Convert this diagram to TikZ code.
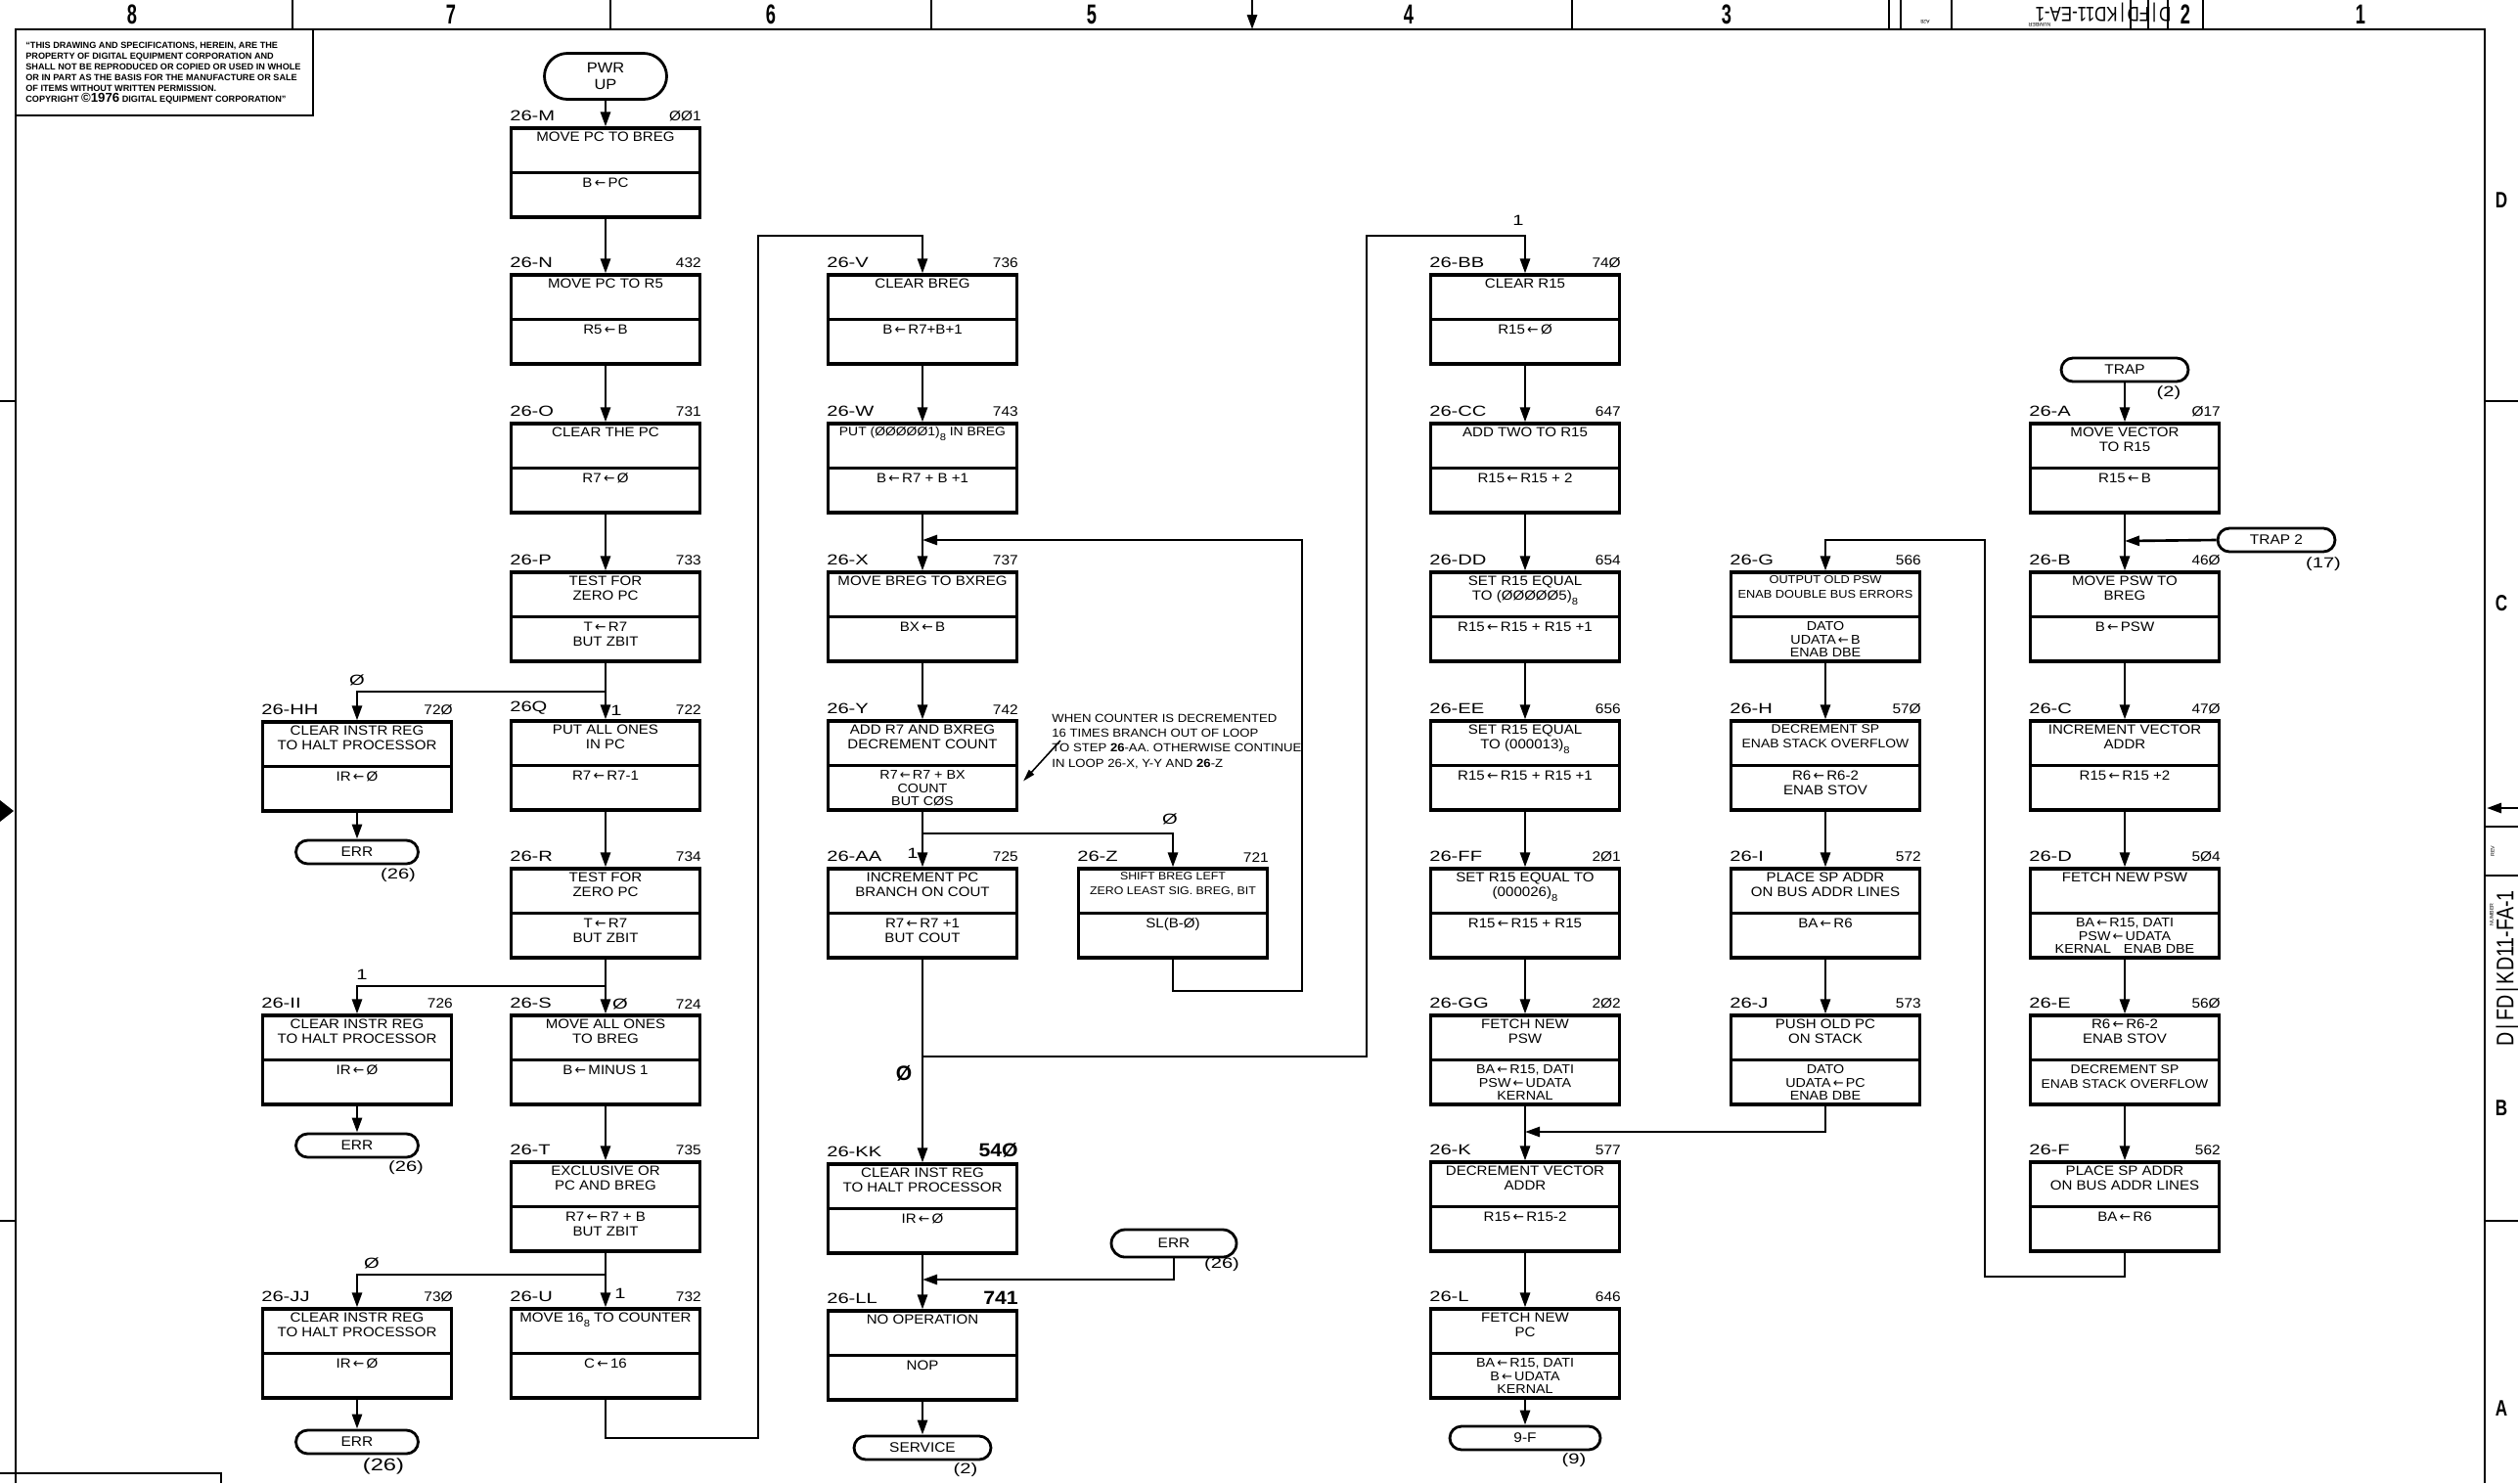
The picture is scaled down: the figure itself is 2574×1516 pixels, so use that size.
\documentclass[tikz,border=0pt]{standalone}
\usepackage{fontspec}
\setmainfont{Liberation Sans}
\newfontfamily\dv{DejaVu Sans}
\newfontfamily\hand[FakeStretch=1.1]{Liberation Sans}
\newfontfamily\lbf[FakeStretch=1.35]{Liberation Sans}
\usetikzlibrary{arrows.meta,calc}
\newcommand\la{\,{\dv ←}\,}
\newcommand\osub[1]{\raisebox{-0.35em}{\fontsize{5.8}{5.8}\selectfont #1}}
\newcommand\tsm{\fontsize{7.2}{8.6}\selectfont}
\tikzset{
  fb/.style={draw, line width=1.8pt, minimum width=3.86cm, minimum height=1.82cm, inner sep=0pt},
  tt/.style={inner sep=0pt, align=center, font=\hand\fontsize{7.8}{8.6}\selectfont},
  tfont/.style={}, afont/.style={},
  a3/.style={afont/.style={font=\hand\fontsize{7.4}{7.6}\selectfont}},
  lb/.style={inner sep=0pt, font=\lbf\fontsize{8.5}{9}\selectfont},
  nb/.style={inner sep=0pt, font=\hand\fontsize{8}{9}\selectfont},
  con/.style={line width=1.5pt},
  arr/.style={con, -{Triangle[length=0.3cm,width=0.2cm]}},
  oval/.style={draw, line width=1.6pt, rounded corners=0.24cm, minimum height=0.48cm, inner sep=0pt, font=\hand\fontsize{8}{8.6}\selectfont},
  bl/.style={inner sep=0pt, font=\lbf\fontsize{8.5}{9}\selectfont},
  frm/.style={line width=1.6pt},
  colnum/.style={inner sep=0pt, font=\fontsize{16}{16}\selectfont\bfseries},
}
\newcommand\FB[8][]{%
  \begin{scope}[#1]
  \node[fb] (#2) at (#3,#4+45.5) {};
  \draw[line width=1.4pt] (#2.west) -- (#2.east);
  \node[tt,tfont,anchor=north] (#2-t) at ($(#2.north)+(0,5)$) {#7};
  \node[tt,afont,anchor=north] (#2-a) at ($(#2.center)+(0,5)$) {#8};
  \node[lb,anchor=south west] (#2-l) at ($(#2.north west)+(0,-5)$) {#5};
  \node[nb,anchor=south east] (#2-n) at ($(#2.north east)+(0,-5)$) {#6};
  \end{scope}
}
\begin{document}
\begin{tikzpicture}[x=0.02cm,y=-0.02cm]
\fill[white] (0,0) rectangle (2574,1516);
\useasboundingbox (0,0) rectangle (2574,1516);

% ---------- sheet frame ----------
\draw[frm] (16,1516) -- (16,30) -- (2540,30) -- (2540,1516);
\foreach \xx in {299,624,952,1607,1931,1943,2216,2252} \draw[frm] (\xx,0) -- (\xx,30);
\draw[frm,-{Triangle[length=0.3cm,width=0.2cm]}] (1280,0) -- (1280,30);
\foreach \xx/\nn in {135/8,461/7,788/6,1116/5,1440/4,1765/3,2234/2,2413/1}
  \node[colnum] (cn\nn) at (\xx,15) {\scalebox{0.65}[1]{\nn}};
\draw[line width=0.8pt] (1995,0) -- (1995,30) (2178,0) -- (2178,30) (2196,0) -- (2196,30);
\node[inner sep=0pt, rotate=180, font=\fontsize{12}{12}\selectfont] (tb) at (2150,13) {\scalebox{0.8}[1]{D\,|\,FD\,|\,KD11-EA-1}};
\node[inner sep=0pt, rotate=180, font=\fontsize{3}{3}\selectfont] (tbn) at (2085,25) {NUMBER};
\node[inner sep=0pt, rotate=180, font=\fontsize{3}{3}\selectfont] (tba) at (1968,22) {A28};
% left / right margin marks
\foreach \yy in {410,1248} {\draw[frm] (0,\yy) -- (16,\yy); \draw[frm] (2540,\yy) -- (2574,\yy);}
\fill (0,818) -- (14,829) -- (0,840) -- cycle;
\draw[frm,-{Triangle[length=0.3cm,width=0.2cm]}] (2574,826) -- (2542,826);
\draw[frm] (2540,845) -- (2574,845) (2540,895) -- (2574,895);
\node[inner sep=0pt, rotate=90, font=\fontsize{3}{3}\selectfont] (rev) at (2548,870) {REV};
\node[inner sep=0pt, rotate=90, font=\fontsize{14}{14}\selectfont] (rtb) at (2563,990) {\scalebox{0.8}[1]{D\,|\,FD\,|\,KD11-FA-1}};
\node[inner sep=0pt, rotate=90, font=\fontsize{3}{3}\selectfont] (rtn) at (2547,935) {NUMBER};
\foreach \yy/\ll in {205/D,617/C,1133/B,1440/A}
  \node[inner sep=0pt, font=\fontsize{13}{13}\selectfont\bfseries] (rl\ll) at (2557,\yy) {\scalebox{0.75}[1]{\ll}};
\draw[frm] (0,1506) -- (226,1506) -- (226,1516);

% copyright box
\draw[line width=1.4pt] (16,118) -- (320,118) -- (320,30);
\node[anchor=north west, inner sep=0pt, align=left, font=\fontsize{5.2}{6.25}\selectfont\bfseries] (copy) at (26,43)
 {“THIS DRAWING AND SPECIFICATIONS, HEREIN, ARE THE\\
  PROPERTY OF DIGITAL EQUIPMENT CORPORATION AND\\
  SHALL NOT BE REPRODUCED OR COPIED OR USED IN WHOLE\\
  OR IN PART AS THE BASIS FOR THE MANUFACTURE OR SALE\\
  OF ITEMS WITHOUT WRITTEN PERMISSION.\\
  COPYRIGHT {\fontsize{7.5}{5}\selectfont ©1976} DIGITAL EQUIPMENT CORPORATION”};

% ---------- column A / B ----------
\node[oval, minimum width=2.5cm, minimum height=0.94cm, rounded corners=0.47cm, align=center, font=\hand\fontsize{8.5}{9.5}\selectfont] (PWR) at (619,78) {PWR\\UP};
\FB{M}{619}{131}{26-M}{ØØ1}{MOVE PC TO BREG}{B\la PC}
\FB{N}{619}{281}{26-N}{432}{MOVE PC TO R5}{R5\la B}
\FB{O}{619}{433}{26-O}{731}{CLEAR THE PC}{R7\la Ø}
\FB{P}{619}{585}{26-P}{733}{TEST FOR\\ZERO PC}{T\la R7\\BUT ZBIT}
\FB{Q}{619}{737}{26Q}{722}{PUT ALL ONES\\IN PC}{R7\la R7-1}
\FB{R}{619}{888}{26-R}{734}{TEST FOR\\ZERO PC}{T\la R7\\BUT ZBIT}
\FB{S}{619}{1038}{26-S}{724}{MOVE ALL ONES\\TO BREG}{B\la MINUS 1}
\FB{T}{619}{1188}{26-T}{735}{EXCLUSIVE OR\\PC AND BREG}{R7\la R7 + B\\BUT ZBIT}
\FB{U}{619}{1338}{26-U}{732}{MOVE 16\osub{8} TO COUNTER}{C\la 16}
\FB{HH}{365}{738}{26-HH}{72Ø}{CLEAR INSTR REG\\TO HALT PROCESSOR}{IR\la Ø}
\FB{II}{365}{1038}{26-II}{726}{CLEAR INSTR REG\\TO HALT PROCESSOR}{IR\la Ø}
\FB{JJ}{365}{1338}{26-JJ}{73Ø}{CLEAR INSTR REG\\TO HALT PROCESSOR}{IR\la Ø}
\node[oval, minimum width=2.5cm] (ERR1) at (365,871) {ERR};
\node[oval, minimum width=2.5cm] (ERR2) at (365,1171) {ERR};
\node[oval, minimum width=2.5cm] (ERR3) at (365,1474) {ERR};
\node[bl] (e1l) at (407,895) {(26)};
\node[bl] (e2l) at (415,1194) {(26)};
\node[bl, font=\lbf\fontsize{10}{10}\selectfont] (e3l) at (392,1499) {(26)};

\draw[arr] (PWR) -- (M);
\draw[arr] (M) -- (N);
\draw[arr] (N) -- (O);
\draw[arr] (O) -- (P);
\draw[arr] (P) -- (Q);
\coordinate (jP) at (619,707);
\draw[arr] (jP) -| (HH.north);
\draw[arr] (HH) -- (ERR1);
\draw[arr] (Q) -- (R);
\draw[arr] (R) -- (S);
\coordinate (jR) at (619,1008);
\draw[arr] (jR) -| (II.north);
\draw[arr] (II) -- (ERR2);
\draw[arr] (S) -- (T);
\draw[arr] (T) -- (U);
\coordinate (jT) at (619,1303);
\draw[arr] (jT) -| (JJ.north);
\draw[arr] (JJ) -- (ERR3);
\node[bl] (bP0) at (365,695) {Ø};
\node[bl] (bP1) at (630,726) {1};
\node[bl] (bR1) at (370,996) {1};
\node[bl] (bR0) at (634,1026) {Ø};
\node[bl] (bT0) at (380,1291) {Ø};
\node[bl] (bT1) at (634,1322) {1};

% ---------- column C ----------
\FB{V}{943}{281}{26-V}{736}{CLEAR BREG}{B\la R7+B+1}
\FB[tfont/.style={font=\hand\fontsize{7.2}{8.6}\selectfont}]{W}{943}{433}{26-W}{743}{PUT (ØØØØØ1)\osub{8} IN BREG}{B\la R7 + B +1}
\FB{X}{943}{585}{26-X}{737}{MOVE BREG TO BXREG}{BX\la B}
\FB[a3]{Y}{943}{737}{26-Y}{742}{ADD R7 AND BXREG\\DECREMENT COUNT}{R7\la R7 + BX\\COUNT\\BUT CØS}
\FB{AA}{943}{888}{26-AA}{725}{INCREMENT PC\\BRANCH ON COUT}{R7\la R7 +1\\BUT COUT}
\FB[tfont/.style={font=\hand\fontsize{6.4}{8.4}\selectfont}]{Z}{1199}{888}{26-Z}{721}{SHIFT BREG LEFT\\ZERO LEAST SIG. BREG, BIT}{SL(B-Ø)}
\FB{KK}{943}{1190}{26-KK}{\fontsize{11}{11}\selectfont\bfseries 54Ø}{CLEAR INST REG\\TO HALT PROCESSOR}{IR\la Ø}
\FB{LL}{943}{1340}{26-LL}{\fontsize{11}{11}\selectfont\bfseries 741}{NO OPERATION}{NOP}
\node[oval, minimum width=2.56cm, minimum height=0.56cm, rounded corners=0.28cm] (ERR4) at (1200,1271) {ERR};
\node[bl] (e4l) at (1249,1293) {(26)};
\node[oval, minimum width=2.8cm] (SERV) at (943,1480) {SERVICE};
\node[bl] (svl) at (987,1503) {(2)};
\node[inner sep=0pt, align=left, anchor=north west, font=\hand\fontsize{6.8}{8.6}\selectfont] (note) at (1075,730)
 {WHEN COUNTER IS DECREMENTED\\16 TIMES BRANCH OUT OF LOOP\\TO STEP \textbf{26}-AA. OTHERWISE CONTINUE\\IN LOOP 26-X, Y-Y AND \textbf{26}-Z};
\draw[con, line width=0.9pt, -{Triangle[length=0.25cm,width=0.14cm]}] ($(note.north west)+(9,27)$) -- ($(Y.east)+(5,16)$);

\draw[arr] (V) -- (W);
\draw[arr] (W) -- (X);
\draw[arr] (X) -- (Y);
\draw[arr] (Y) -- (AA);
\coordinate (jY) at (943,852);
\draw[arr] (jY) -| (Z.north);
\coordinate (z1) at (1331,1013);
\coordinate (jX) at (943,552);
\draw[arr] (Z.south) |- (z1) |- (jX);
\draw[arr] (AA) -- (KK);
\draw[arr] (KK) -- (LL);
\coordinate (jK) at (943,1308);
\draw[arr] (ERR4.south) |- (jK);
\draw[arr] (LL) -- (SERV);
\coordinate (u1) at (775,1470);
\coordinate (u2) at (775,241);
\draw[arr] (U.south) |- (u1) -- (u2) -| (V.north);
\node[bl] (bY1) at (933,872) {1};
\node[bl] (bY0) at (1196,837) {Ø};
\node[bl, font=\fontsize{12}{12}\selectfont\bfseries] (bA0) at (924,1097) {Ø};
\node[bl] (bB1) at (1552,225) {1};

% ---------- column D ----------
\FB{BB}{1559}{281}{26-BB}{74Ø}{CLEAR R15}{R15\la Ø}
\FB{CC}{1559}{433}{26-CC}{647}{ADD TWO TO R15}{R15\la R15 + 2}
\FB{DD}{1559}{585}{26-DD}{654}{SET R15 EQUAL\\TO (ØØØØØ5)\osub{8}}{R15\la R15 + R15 +1}
\FB{EE}{1559}{737}{26-EE}{656}{SET R15 EQUAL\\TO (000013)\osub{8}}{R15\la R15 + R15 +1}
\FB{FF}{1559}{888}{26-FF}{2Ø1}{SET R15 EQUAL TO\\(000026)\osub{8}}{R15\la R15 + R15}
\FB[a3]{GG}{1559}{1038}{26-GG}{2Ø2}{FETCH NEW\\PSW}{BA\la R15, DATI\\PSW\la UDATA\\KERNAL}
\FB{K}{1559}{1188}{26-K}{577}{DECREMENT VECTOR\\ADDR}{R15\la R15-2}
\FB[a3]{L}{1559}{1338}{26-L}{646}{FETCH NEW\\PC}{BA\la R15, DATI\\B\la UDATA\\KERNAL}
\node[oval, minimum width=3.08cm] (NF) at (1559,1470) {9-F};
\node[bl] (nfl) at (1609,1493) {(9)};
\draw[arr] (BB) -- (CC);
\draw[arr] (CC) -- (DD);
\draw[arr] (DD) -- (EE);
\draw[arr] (EE) -- (FF);
\draw[arr] (FF) -- (GG);
\draw[arr] (GG) -- (K);
\draw[arr] (K) -- (L);
\draw[arr] (L) -- (NF);
\coordinate (jA) at (943,1080);
\coordinate (a1) at (1397,241);
\draw[arr] (jA) -| (a1) -| (BB.north);

% ---------- column E ----------
\FB[a3, tfont/.style={font=\hand\fontsize{6.6}{8.4}\selectfont}]{G}{1866}{585}{26-G}{566}{OUTPUT OLD PSW\\ENAB DOUBLE BUS ERRORS}{DATO\\UDATA\la B\\ENAB DBE}
\FB[tfont/.style={font=\hand\fontsize{7.2}{8.6}\selectfont}]{H}{1866}{737}{26-H}{57Ø}{DECREMENT SP\\ENAB STACK OVERFLOW}{R6\la R6-2\\ENAB STOV}
\FB{I}{1866}{888}{26-I}{572}{PLACE SP ADDR\\ON BUS ADDR LINES}{BA\la R6}
\FB[a3]{J}{1866}{1038}{26-J}{573}{PUSH OLD PC\\ON STACK}{DATO\\UDATA\la PC\\ENAB DBE}
\draw[arr] (G) -- (H);
\draw[arr] (H) -- (I);
\draw[arr] (I) -- (J);
\coordinate (jG) at (1559,1157);
\draw[arr] (J.south) |- (jG);

% ---------- column F ----------
\node[oval, minimum width=2.6cm] (TRAP) at (2172,378) {TRAP};
\node[bl] (trl) at (2217,402) {(2)};
\node[oval, minimum width=2.4cm] (TRAP2) at (2327,552) {TRAP 2};
\node[bl] (tr2l) at (2375,577) {(17)};
\FB{A}{2172}{433}{26-A}{Ø17}{MOVE VECTOR\\TO R15}{R15\la B}
\FB{B}{2172}{585}{26-B}{46Ø}{MOVE PSW TO\\BREG}{B\la PSW}
\FB{C}{2172}{737}{26-C}{47Ø}{INCREMENT VECTOR\\ADDR}{R15\la R15 +2}
\FB[a3]{D}{2172}{888}{26-D}{5Ø4}{FETCH NEW PSW}{BA\la R15, DATI\\PSW\la UDATA\\KERNAL\quad ENAB DBE}
\FB[afont/.style={font=\hand\fontsize{7.2}{8.6}\selectfont}]{E}{2172}{1038}{26-E}{56Ø}{R6\la R6-2\\ENAB STOV}{DECREMENT SP\\ENAB STACK OVERFLOW}
\FB{F}{2172}{1188}{26-F}{562}{PLACE SP ADDR\\ON BUS ADDR LINES}{BA\la R6}
\draw[arr] (TRAP) -- (A);
\draw[arr] (A) -- (B);
\coordinate (jB) at (2172,553);
\draw[arr] (TRAP2.west) -- (jB);
\draw[arr] (B) -- (C);
\draw[arr] (C) -- (D);
\draw[arr] (D) -- (E);
\draw[arr] (E) -- (F);
\coordinate (f1) at (2029,1305);
\coordinate (f2) at (2029,552);
\draw[arr] (F.south) |- (f1) -- (f2) -| (G.north);
\end{tikzpicture}
\end{document}
